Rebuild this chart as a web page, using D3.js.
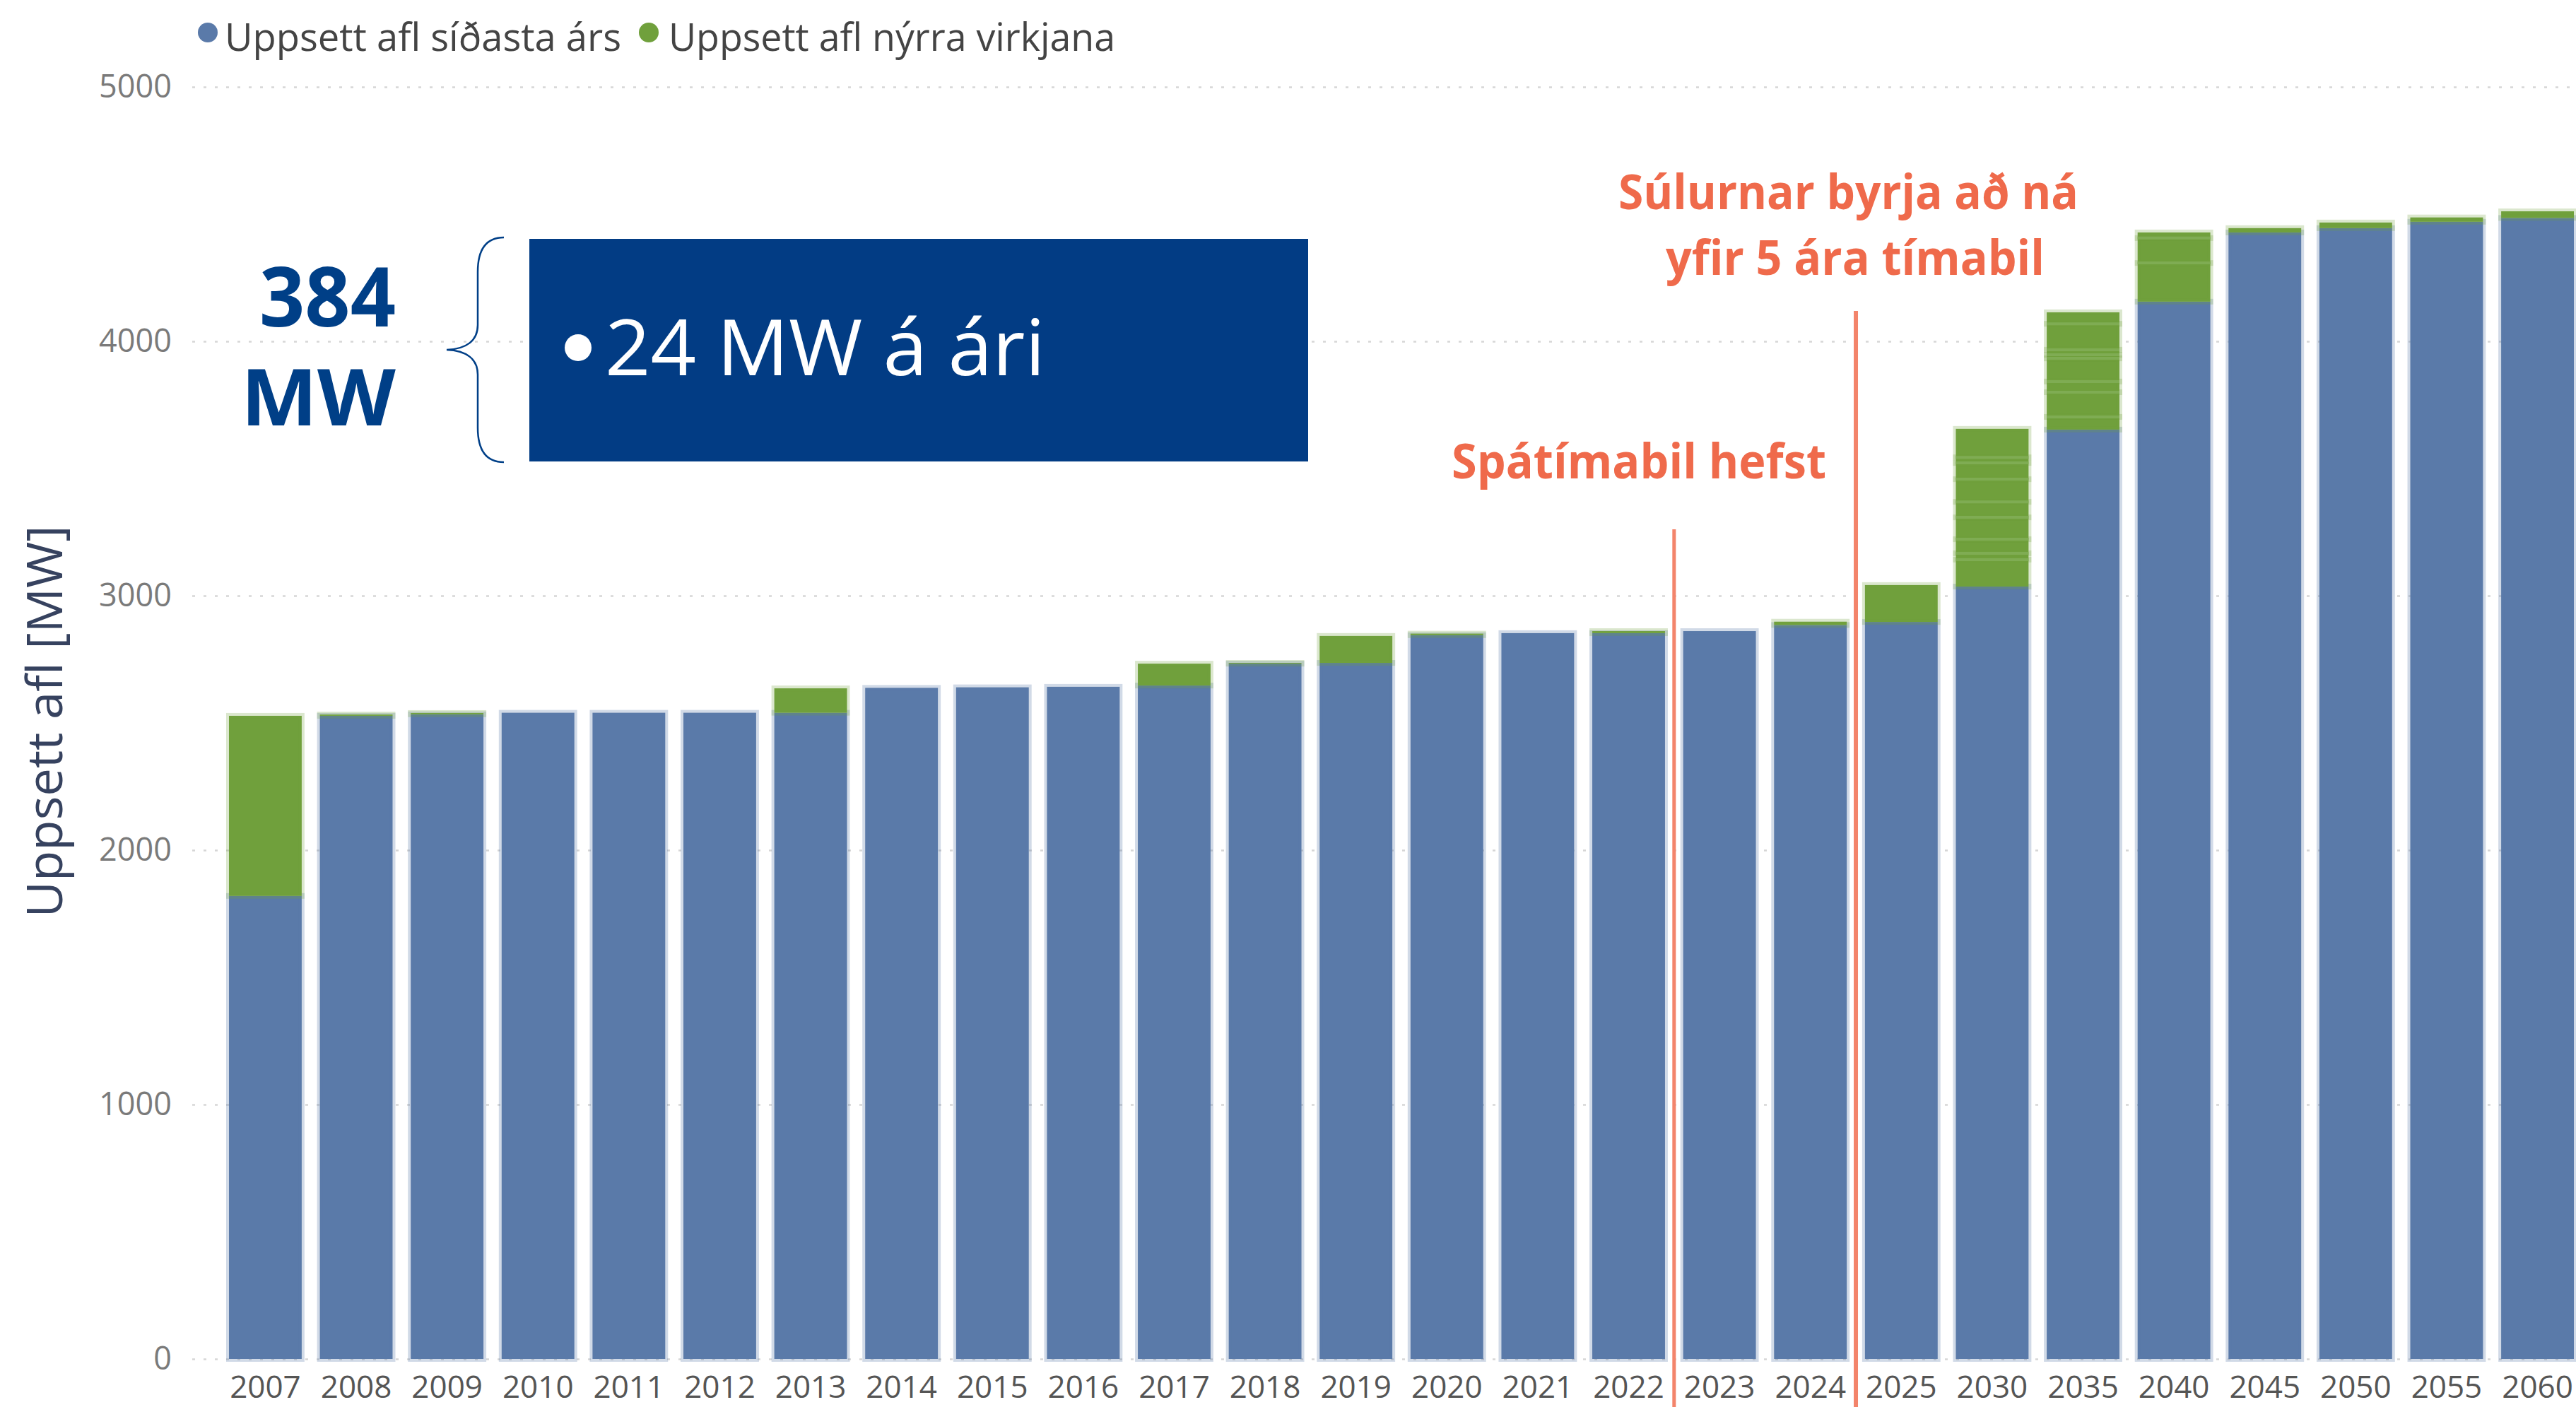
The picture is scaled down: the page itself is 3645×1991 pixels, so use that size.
<!DOCTYPE html>
<html>
<head>
<meta charset="utf-8">
<script src="https://cdn.jsdelivr.net/npm/d3@7/dist/d3.min.js"></script>
<style>
  html, body { margin: 0; padding: 0; background: #ffffff; }
  svg { display: block; }
</style>
</head>
<body>
<svg id="chart" width="3645" height="1991"></svg>
<script>
// ---------- DATA ----------
const years = ['2007','2008','2009','2010','2011','2012','2013','2014','2015','2016','2017','2018','2019','2020','2021','2022','2023','2024','2025','2030','2035','2040','2045','2050','2055','2060'];
// Uppsett afl síðasta árs (MW)
const prevYearPower = [1820, 2528, 2534, 2540, 2540, 2540, 2540, 2638, 2640, 2642, 2647, 2733, 2736, 2845, 2853, 2853, 2861, 2885, 2897, 3036, 3653, 4156, 4428, 4445, 4470, 4485];
// Uppsett afl nýrra virkjana (MW), split into individual plant additions
const newPlantPower = [[708],[5],[5],[0],[0],[0],[96],[0],[0],[0],[86],[3],[106],[6],[0],[8],[0],[13],[145],
  [106,25,55,86,61,89,64,22,112],
  [50,97,42,91,14,20,102,45],
  [152,98,22],
  [17],[22],[17],[26]];
const yTicks = [0, 1000, 2000, 3000, 4000, 5000];
const seriesNames = ['Uppsett afl síðasta árs', 'Uppsett afl nýrra virkjana'];
const seriesColors = ['#5a7aa9', '#70a03c'];
const yAxisTitle = 'Uppsett afl [MW]';
const forecastStart = '2023';
const fiveYearStart = '2025';
const annotForecast = 'Spátímabil hefst';
const annotFiveYear = ['Súlurnar byrja að ná', 'yfir 5 ára tímabil'];
const boxTotal = ['384', 'MW'];
const boxText = '24 MW á ári';

// ---------- SCALES ----------
const svg = d3.select('#chart');
const y = d3.scaleLinear().domain([0, 5000]).range([1923, 123]);
const x = d3.scaleBand().domain(years).range([324, 3642]).paddingInner(0.2).paddingOuter(0);

// ---------- Y AXIS + GRID ----------
const gy = svg.append('g').attr('transform', 'translate(272,0)')
  .call(d3.axisLeft(y).tickValues(yTicks).tickSizeInner(-(3645 - 272)).tickSizeOuter(0).tickPadding(29).tickFormat(d3.format('d')));
gy.select('.domain').remove();
gy.selectAll('.tick line').attr('stroke', '#d6d6d6').attr('stroke-width', 2.5).attr('stroke-dasharray', '4,12');
gy.selectAll('.tick text').attr('fill', '#7a7a7a').style('font-family', '"Open Sans", sans-serif').style('font-size', '45px');

// ---------- BARS ----------
const barsG = svg.append('g');
years.forEach((yr, i) => {
  const bx = x(yr), bw = x.bandwidth();
  const base = prevYearPower[i];
  barsG.append('rect')
    .attr('x', bx).attr('width', bw)
    .attr('y', y(base)).attr('height', y(0) - y(base))
    .attr('fill', seriesColors[0])
    .attr('stroke', 'rgba(90,122,169,0.28)').attr('stroke-width', 8);
  let acc = base;
  const segs = newPlantPower[i];
  segs.forEach((s, j) => {
    if (s <= 0) return;
    barsG.append('rect')
      .attr('x', bx).attr('width', bw)
      .attr('y', y(acc + s)).attr('height', y(acc) - y(acc + s))
      .attr('fill', seriesColors[1])
      .attr('stroke', 'rgba(112,160,60,0.25)').attr('stroke-width', 8);
    acc += s;
  });
  // light separators between plant additions
  acc = base;
  segs.forEach((s, j) => {
    acc += s;
    if (j < segs.length - 1 && s > 0) {
      barsG.append('line')
        .attr('x1', bx).attr('x2', bx + bw)
        .attr('y1', y(acc)).attr('y2', y(acc))
        .attr('stroke', '#7fac53').attr('stroke-width', 4);
    }
  });
});

// ---------- X AXIS ----------
const gx = svg.append('g').attr('transform', `translate(0,${y(0)})`)
  .call(d3.axisBottom(x).tickSize(0).tickPadding(24));
gx.select('.domain').remove();
gx.selectAll('.tick text').attr('fill', '#555555').style('font-family', '"Open Sans", sans-serif').style('font-size', '44px');

// ---------- Y AXIS TITLE ----------
svg.append('text')
  .attr('transform', 'translate(88,1021) rotate(-90)')
  .attr('text-anchor', 'middle')
  .attr('fill', '#36425f')
  .style('font-family', '"Open Sans", sans-serif').style('font-size', '70px')
  .attr('textLength', 555).attr('lengthAdjust', 'spacingAndGlyphs')
  .text(yAxisTitle);

// ---------- LEGEND ----------
const legendPos = [{cx: 294, tx: 318, w: 561}, {cx: 918, tx: 946, w: 632}];
seriesNames.forEach((n, i) => {
  svg.append('circle').attr('cx', legendPos[i].cx).attr('cy', 46).attr('r', 14).attr('fill', seriesColors[i]);
  svg.append('text').attr('x', legendPos[i].tx).attr('y', 72)
    .attr('fill', '#444444')
    .style('font-family', '"Open Sans", sans-serif').style('font-size', '54px')
    .attr('textLength', legendPos[i].w).attr('lengthAdjust', 'spacingAndGlyphs')
    .text(n);
});

// ---------- RED MARKER LINES ----------
const step = x.step();
const line1X = x(forecastStart) - (step - x.bandwidth()) / 2;
const line2X = x(fiveYearStart) - (step - x.bandwidth()) / 2;
svg.append('line').attr('x1', line1X).attr('x2', line1X).attr('y1', 749).attr('y2', 1991)
  .attr('stroke', '#f3846b').attr('stroke-width', 5);
svg.append('line').attr('x1', line2X).attr('x2', line2X).attr('y1', 440).attr('y2', 1991)
  .attr('stroke', '#f3846b').attr('stroke-width', 6);

const redFont = '"Open Sans", sans-serif';
svg.append('text').attr('x', 2054).attr('y', 677)
  .attr('fill', '#ef6a4b').style('font-family', redFont).style('font-weight', 700).style('font-size', '68px')
  .attr('textLength', 530).attr('lengthAdjust', 'spacingAndGlyphs')
  .text(annotForecast);
svg.append('text').attr('x', 2290).attr('y', 296)
  .attr('fill', '#ef6a4b').style('font-family', redFont).style('font-weight', 700).style('font-size', '68px')
  .attr('textLength', 651).attr('lengthAdjust', 'spacingAndGlyphs')
  .text(annotFiveYear[0]);
svg.append('text').attr('x', 2357).attr('y', 389)
  .attr('fill', '#ef6a4b').style('font-family', redFont).style('font-weight', 700).style('font-size', '68px')
  .attr('textLength', 536).attr('lengthAdjust', 'spacingAndGlyphs')
  .text(annotFiveYear[1]);

// ---------- 384 MW CALLOUT ----------
svg.append('text').attr('x', 560).attr('y', 462).attr('text-anchor', 'end')
  .attr('fill', '#003f87').style('font-family', '"Open Sans", sans-serif').style('font-weight', 700).style('font-size', '116px')
  .attr('textLength', 193).attr('lengthAdjust', 'spacingAndGlyphs')
  .text(boxTotal[0]);
svg.append('text').attr('x', 560).attr('y', 602).attr('text-anchor', 'end')
  .attr('fill', '#003f87').style('font-family', '"Open Sans", sans-serif').style('font-weight', 700).style('font-size', '112px')
  .attr('textLength', 219).attr('lengthAdjust', 'spacingAndGlyphs')
  .text(boxTotal[1]);

// brace
svg.append('path')
  .attr('d', 'M713,336 C690,336 676,350 676,385 L676,460 C676,482 660,494 632,495 C660,496 676,508 676,530 L676,605 C676,640 690,654 713,654')
  .attr('fill', 'none').attr('stroke', '#003f87').attr('stroke-width', 2.5);

svg.append('rect').attr('x', 749).attr('y', 338).attr('width', 1102).attr('height', 315).attr('fill', '#023c84');
svg.append('circle').attr('cx', 818).attr('cy', 492).attr('r', 19).attr('fill', '#ffffff');
svg.append('text').attr('x', 856).attr('y', 531)
  .attr('fill', '#ffffff').style('font-family', '"Open Sans", sans-serif').style('font-size', '110px')
  .attr('textLength', 623).attr('lengthAdjust', 'spacingAndGlyphs')
  .text(boxText);
</script>
</body>
</html>
